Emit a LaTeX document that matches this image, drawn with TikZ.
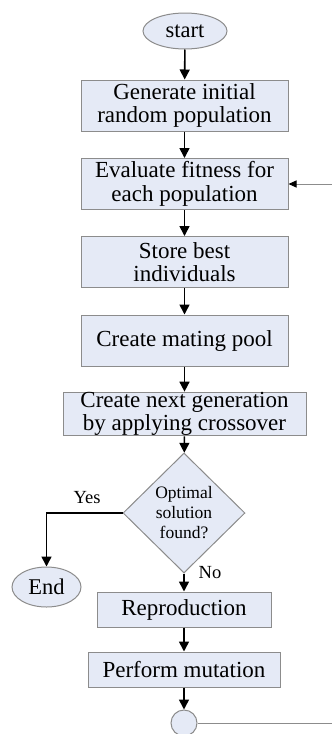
\documentclass[tikz,border=0pt]{standalone}
\usepackage{fontspec}
\setmainfont{Liberation Serif}
\usetikzlibrary{shapes.geometric,arrows.meta}
\definecolor{boxfill}{RGB}{229,234,246}
\definecolor{boxline}{RGB}{140,140,140}

\begin{document}
\begin{tikzpicture}[x=1pt,y=-1pt,
  box/.style={draw=boxline,fill=boxfill,line width=1pt,inner sep=0pt,align=center,font=\fontsize{23}{23.5}\selectfont},
  term/.style={ellipse,draw=boxline,fill=boxfill,line width=1pt,inner sep=0pt,font=\fontsize{22.5}{23.5}\selectfont},
  decision/.style={diamond,aspect=1,draw=boxline,fill=boxfill,line width=1pt,inner sep=0pt,align=center,font=\fontsize{17.5}{20}\selectfont},
  flow/.style={-{Triangle[length=10pt,width=10pt]},line width=1.6pt},
  feedback/.style={draw=boxline,line width=1pt},
  lbl/.style={font=\fontsize{18.5}{20}\selectfont,inner sep=0pt}]

\useasboundingbox (0,0) rectangle (332,734);

\node[term,minimum width=84pt,minimum height=36pt] (start) at (185,31) {start};
\node[box,minimum width=207pt,minimum height=51pt] (init) at (184.5,105.5) {Generate initial\\random population};
\node[box,minimum width=207pt,minimum height=51pt] (fitness) at (184.5,184) {Evaluate fitness for\\each population};
\node[box,minimum width=207pt,minimum height=51pt] (store) at (184.5,262) {Store best\\individuals};
\node[box,minimum width=207pt,minimum height=51pt] (pool) at (184.5,340.5) {Create mating pool};
\node[box,minimum width=243pt,minimum height=42pt] (cross) at (184.5,414) {Create next generation\\by applying crossover};
\node[decision,minimum width=122pt,minimum height=120pt] (optimal) at (184,513) {Optimal\\solution\\found?};
\node[term,minimum width=69pt,minimum height=40pt] (end) at (46.5,587) {End};
\node[box,minimum width=174pt,minimum height=35pt] (repro) at (184,609.5) {Reproduction};
\node[box,minimum width=192pt,minimum height=35pt] (mutate) at (184,669.5) {Perform mutation};
\node[circle,draw=boxline,fill=boxfill,line width=1pt,minimum size=26pt,inner sep=0pt] (join) at (184,723) {};

\node[lbl] (yes) at (87,498) {Yes};
\node[lbl] (no) at (210,573) {No};

% main flow
\draw[flow] (start) -- (init);
\draw[flow] (init) -- (fitness);
\draw[flow] (fitness) -- (store);
\draw[flow] (store) -- (pool);
\draw[flow] (pool) -- (cross);
\draw[flow] (cross) -- (optimal);
\draw[flow] (optimal.west) -| (end.north);
\draw[flow] (optimal) -- (repro);
\draw[flow] (repro) -- (mutate);
\draw[flow] (mutate) -- (join);

% back to the evaluation
\coordinate (loopout) at (332,723);
\coordinate (loopin) at (332,184);
\draw[feedback] (join) -- (loopout);
\draw[feedback,-{Triangle[length=8pt,width=7pt,color=black]}] (loopin) -- (fitness);

\end{tikzpicture}
\end{document}
